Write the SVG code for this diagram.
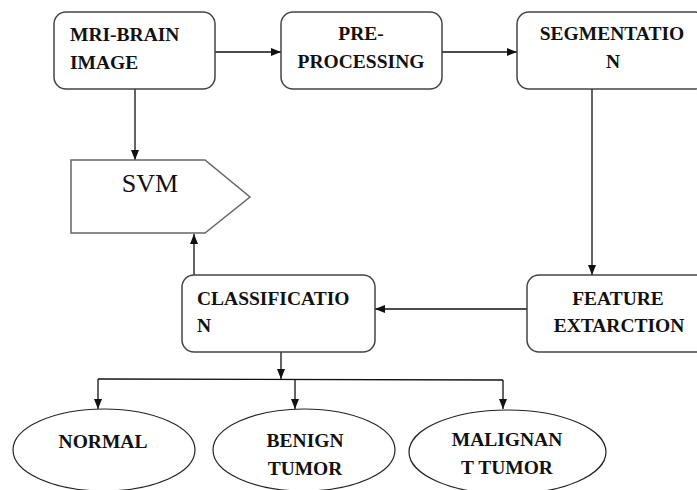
<svg xmlns="http://www.w3.org/2000/svg" width="697" height="490" viewBox="0 0 697 490">
<style>
.box{fill:#fff;stroke:#444;stroke-width:1.5}
.ell{fill:#fff;stroke:#222;stroke-width:1.2}
.t{font-family:"Times New Roman","Liberation Serif","DejaVu Serif",serif;font-weight:bold;font-size:19.5px;fill:#111}
.c{text-anchor:middle}
.ln{fill:none;stroke:#111;stroke-width:1.3}
</style>
<defs>
<marker id="ah" viewBox="0 0 10 10" refX="10" refY="5" markerWidth="10" markerHeight="10" markerUnits="userSpaceOnUse" orient="auto">
<path d="M0,1 L10,5 L0,9 Z" fill="#111"/>
</marker>
</defs>
<rect width="697" height="490" fill="#fff"/>
<g id="connectors">
<line class="ln" x1="215" y1="52" x2="281" y2="52" marker-end="url(#ah)"/>
<line class="ln" x1="442" y1="52" x2="517" y2="52" marker-end="url(#ah)"/>
<line class="ln" x1="135" y1="89" x2="135" y2="160" marker-end="url(#ah)"/>
<line class="ln" x1="592" y1="89" x2="592" y2="275" marker-end="url(#ah)"/>
<line class="ln" x1="527" y1="309" x2="375" y2="309" marker-end="url(#ah)"/>
<line class="ln" x1="194" y1="275" x2="194" y2="234" marker-end="url(#ah)"/>
<line class="ln" x1="281" y1="352" x2="281" y2="379" marker-end="url(#ah)"/>
<polyline class="ln" points="98,379 503,380"/>
<line class="ln" x1="98" y1="379" x2="98" y2="409" marker-end="url(#ah)"/>
<line class="ln" x1="503" y1="380" x2="503" y2="409" marker-end="url(#ah)"/>
<line class="ln" x1="295" y1="379" x2="295" y2="409" marker-end="url(#ah)"/>
</g>
<g id="mri">
<rect class="box" x="54" y="12" width="161" height="77" rx="12"/>
<text class="t" x="70" y="41">MRI-BRAIN</text>
<text class="t" x="70" y="69">IMAGE</text>
</g>
<g id="pre">
<rect class="box" x="281" y="12" width="161" height="77" rx="12"/>
<text class="t c" x="361" y="40">PRE-</text>
<text class="t c" x="361" y="68">PROCESSING</text>
</g>
<g id="seg">
<rect class="box" x="517" y="12" width="190" height="77" rx="12"/>
<text class="t c" x="612" y="40">SEGMENTATIO</text>
<text class="t c" x="613" y="68">N</text>
</g>
<g id="svm">
<polygon points="71,160 205,160 250,197 205,233 71,233" fill="#fff" stroke="#666" stroke-width="1.5"/>
<text x="150" y="192" text-anchor="middle" font-family="'Times New Roman','Liberation Serif','DejaVu Serif',serif" font-size="26" fill="#111">SVM</text>
</g>
<g id="feature">
<rect class="box" x="527" y="275" width="190" height="77" rx="12"/>
<text class="t c" x="618" y="305">FEATURE</text>
<text class="t c" x="619" y="332">EXTARCTION</text>
</g>
<g id="classification">
<rect class="box" x="182" y="275" width="193" height="77" rx="12"/>
<text class="t" x="197" y="305">CLASSIFICATIO</text>
<text class="t" x="197" y="332">N</text>
</g>
<g id="normal">
<ellipse class="ell" cx="104" cy="450" rx="91" ry="41"/>
<text class="t c" x="103" y="448">NORMAL</text>
</g>
<g id="benign">
<ellipse class="ell" cx="304" cy="450" rx="91" ry="41"/>
<text class="t c" x="305" y="447">BENIGN</text>
<text class="t c" x="305" y="475">TUMOR</text>
</g>
<g id="malignant">
<ellipse class="ell" cx="507.5" cy="452" rx="98.5" ry="42"/>
<text class="t c" x="507" y="446">MALIGNAN</text>
<text class="t c" x="507" y="474">T TUMOR</text>
</g>
</svg>
